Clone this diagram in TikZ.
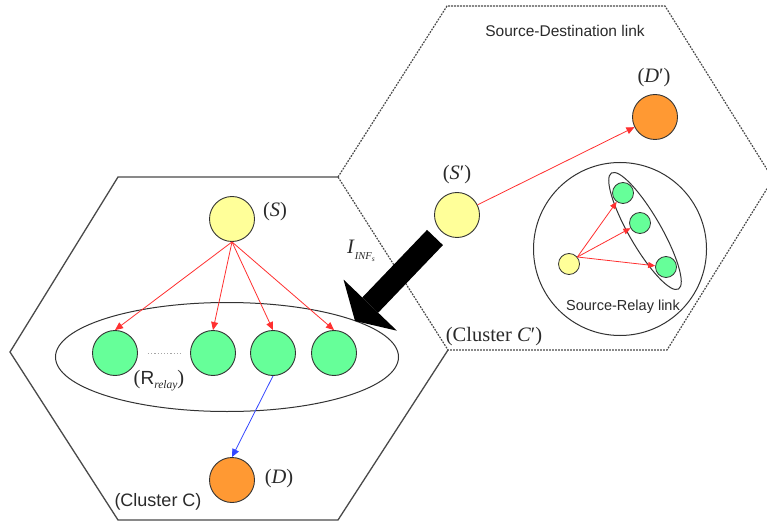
\documentclass[tikz,border=0pt]{standalone}
\usepackage{fontspec}
\setmainfont{Liberation Serif}
\setsansfont{Liberation Sans}
\usetikzlibrary{arrows.meta,shapes.geometric}

\definecolor{nodeyellow}{HTML}{FFFF99}
\definecolor{nodegreen}{HTML}{66FF99}
\definecolor{nodeorange}{HTML}{FF9933}
\definecolor{rim}{HTML}{333333}
\definecolor{cellgray}{HTML}{4A4A4A}
\definecolor{inkgray}{HTML}{2A2A2A}
\definecolor{linkred}{HTML}{FF3030}
\definecolor{linkblue}{HTML}{3346FF}

\begin{document}
\begin{tikzpicture}[x=1pt,y=-1pt,
  bignode/.style={circle,draw=rim,line width=0.9pt,inner sep=0pt,minimum size=45pt},
  smallnode/.style={circle,draw=rim,line width=0.8pt,inner sep=0pt,minimum size=21pt},
  srcnode/.style={bignode,fill=nodeyellow},
  relaynode/.style={bignode,fill=nodegreen},
  dstnode/.style={bignode,fill=nodeorange},
  group/.style={ellipse,draw=rim,line width=1pt,inner sep=0pt},
  cellsolid/.style={draw=cellgray,line width=1.3pt,line join=miter},
  celldashed/.style={draw=cellgray,line width=1.2pt,dash pattern=on 1.8pt off 1.2pt},
  redlink/.style={draw=linkred,line width=0.8pt,-{Triangle[length=8pt,width=7pt]}},
  smallred/.style={draw=linkred,line width=0.8pt,-{Triangle[length=7pt,width=6pt]}},
  bluelink/.style={draw=linkblue,line width=0.8pt,-{Triangle[length=8pt,width=7pt]}},
  interference/.style={draw=black,line width=22pt,-{Triangle[length=22pt,width=74pt,line width=0pt]}},
  lab/.style={font=\fontsize{20.5}{24}\selectfont,text=inkgray,inner sep=0pt},
  sanslab/.style={font=\sffamily\fontsize{14.5}{17}\selectfont,text=inkgray,inner sep=0pt},
  dots/.style={draw=gray!70,line width=1pt,dash pattern=on 1.2pt off 2pt}
]
\useasboundingbox (0,0) rectangle (767,526);
\fill[white] (0,0) rectangle (767,526);

% cells: solid cluster C, dashed cluster C' (they share one dashed edge)
\draw[cellsolid] (338,177) -- (118,177) -- (10,352) -- (118,520) -- (338,520) -- (448,350);
\draw[celldashed] (338,177) -- (447,6) -- (665,6) -- (773,179) -- (667,350) -- (448,350) -- cycle;

% cluster C
\node[group,minimum width=343pt,minimum height=109pt] (relayset) at (227,357) {};
\node[srcnode] (S) at (232,219) {};
\node[relaynode] (g1) at (115,353) {};
\node[relaynode] (g2) at (213,353) {};
\node[relaynode] (g3) at (273,353) {};
\node[relaynode] (g4) at (334,353) {};
\node[dstnode] (D) at (232,480) {};

\draw[dots,shorten <=10pt,shorten >=8pt] (g1) -- (g2);
\foreach \g in {g1,g2,g3,g4} \draw[redlink] (S.south) -- (\g.north);
\draw[bluelink] (g3.south) -- (D.north);

\node[lab] (Slab) at (275,212) {(\textit{S})};
\node[lab] (Dlab) at (279,479) {(\textit{D})};
\node[lab] (Rlab) at (159,381) {({\sffamily\fontsize{19}{22}\selectfont R}\raisebox{-4pt}{\fontsize{11.5}{12}\selectfont\itshape relay})};
\node[font=\sffamily\fontsize{18}{20}\selectfont,text=inkgray,inner sep=0pt] (clC) at (158,502) {(Cluster C)};

% cluster C'
\node[srcnode] (Sp) at (457,215) {};
\node[dstnode] (Dp) at (655,117) {};
\draw[redlink] (Sp) -- (Dp);
\node[lab] (Splab) at (457,175) {(\textit{S}′)};
\node[lab] (Dplab) at (654,78) {(\textit{D}′)};
\node[sanslab,font=\sffamily\fontsize{15.5}{18}\selectfont] (sdlab) at (565,31) {Source-Destination link};

\node[circle,draw=rim,line width=1pt,inner sep=0pt,minimum size=173pt] (relaycell) at (620,249) {};
\node[group,minimum width=134pt,minimum height=32pt,rotate=-60] (subset) at (645,231) {};
\node[smallnode,fill=nodeyellow] (sy) at (569,264) {};
\node[smallnode,fill=nodegreen] (sg1) at (623,193) {};
\node[smallnode,fill=nodegreen] (sg2) at (640,223) {};
\node[smallnode,fill=nodegreen] (sg3) at (666,267) {};
\foreach \g in {sg1,sg2,sg3} \draw[smallred] (sy.40) -- (\g);
\node[sanslab] (srlab) at (623,307) {Source-Relay link};
\node[lab] (clCp) at (494,337) {(Cluster \textit{C}′)};

% interference from S' into cluster C
\coordinate (infA) at (435,237.5);
\coordinate (infB) at (355,321);
\draw[interference] (infA) -- (infB);
\node[lab] (inflab) at (361,251) {\textit{I}\raisebox{-6pt}{\fontsize{10.5}{11}\selectfont\textit{INF}\raisebox{-2pt}{\fontsize{7.5}{8}\selectfont\textit{s}}}};
\end{tikzpicture}
\end{document}
